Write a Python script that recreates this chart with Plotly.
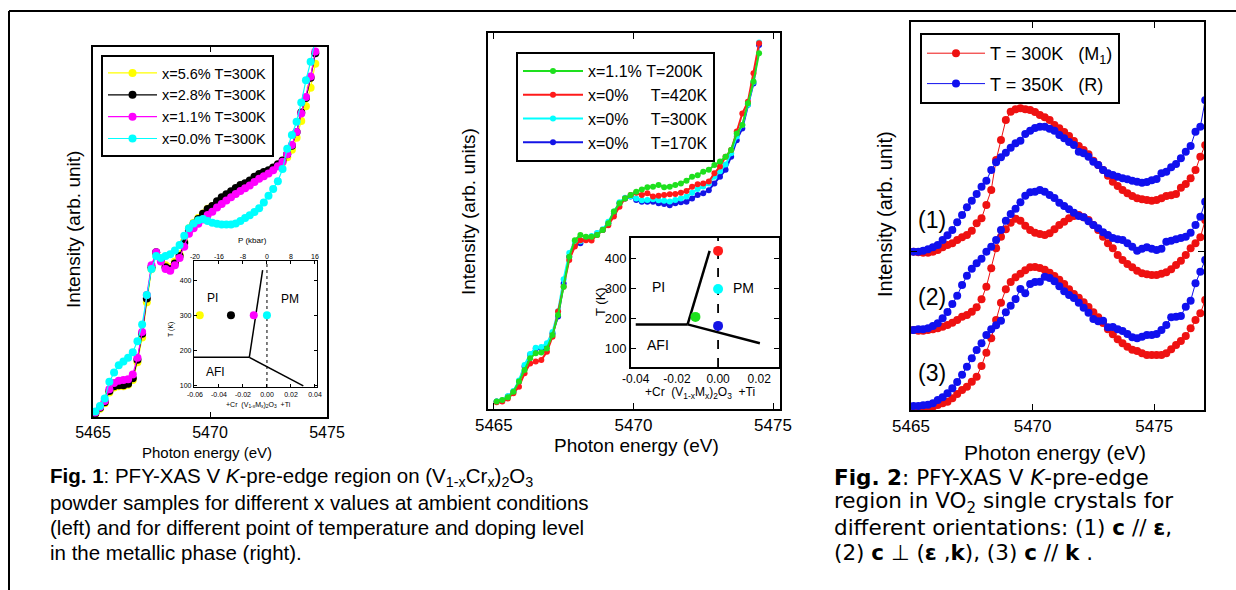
import plotly.graph_objects as go

# ---------------- data ----------------
# Fig.1 left panel: (V1-xCrx)2O3, T = 300 K
e_left = [5465.1, 5465.3, 5465.5, 5465.7, 5465.9, 5466.1, 5466.3, 5466.5, 5466.7, 5466.9,
          5467.1, 5467.3, 5467.5, 5467.7, 5467.9, 5468.1, 5468.3, 5468.5, 5468.7, 5468.9,
          5469.1, 5469.3, 5469.5, 5469.7, 5469.9, 5470.1, 5470.3, 5470.5, 5470.7, 5470.9,
          5471.1, 5471.3, 5471.5, 5471.7, 5471.9, 5472.1, 5472.3, 5472.5, 5472.7, 5472.9,
          5473.1, 5473.3, 5473.5, 5473.7, 5473.9, 5474.1, 5474.3, 5474.5]
i_x56 = [0.8, 2.2, 3.7, 6.6, 8.0, 8.3, 8.3, 8.7, 10.0, 14.8, 21.5, 31.0, 40.0, 44.3, 42.8, 41.0,
         40.5, 42.0, 44.0, 47.5, 51.0, 52.5, 53.8, 55.0, 56.3, 57.0, 58.0, 59.0, 59.8, 60.6,
         61.5, 62.2, 62.8, 63.5, 64.4, 65.2, 65.8, 66.3, 67.0, 67.8, 68.8, 70.2, 72.2, 75.5,
         80.0, 84.0, 89.0, 95.5]
i_x28 = [1.0, 2.5, 4.0, 7.0, 8.3, 8.6, 8.6, 9.0, 10.5, 15.5, 22.5, 32.0, 40.5, 44.5, 42.5, 40.5,
         40.0, 41.5, 43.5, 47.0, 50.5, 52.2, 53.5, 54.9, 56.2, 57.0, 58.3, 59.4, 60.2, 61.0,
         61.9, 62.7, 63.2, 63.9, 64.9, 65.7, 66.2, 66.7, 67.4, 68.3, 69.3, 71.0, 73.3, 77.0,
         82.3, 86.2, 91.7, 98.3]
i_x11 = [1.2, 2.7, 4.3, 7.5, 9.2, 9.8, 10.0, 10.2, 11.5, 16.0, 23.0, 33.0, 41.0, 44.5, 42.0, 40.0,
         39.5, 41.0, 43.0, 46.0, 49.5, 51.0, 52.2, 53.4, 54.6, 55.5, 56.6, 57.6, 58.5, 59.4,
         60.3, 61.1, 61.8, 62.6, 63.5, 64.4, 65.1, 65.8, 66.7, 67.8, 69.0, 71.0, 73.5, 77.0,
         82.0, 86.5, 92.0, 98.8]
i_x00 = [1.5, 3.0, 5.0, 9.5, 12.0, 14.0, 15.0, 16.0, 17.5, 20.5, 25.0, 33.0, 40.0, 43.5, 43.0, 43.5,
         44.0, 45.0, 46.5, 49.0, 51.0, 52.3, 53.2, 53.5, 53.0, 52.5, 52.2, 52.0, 52.0, 52.0,
         52.3, 53.0, 53.8, 54.5, 55.4, 56.4, 58.0, 59.8, 61.6, 63.7, 67.0, 72.5, 76.2, 79.8,
         85.0, 91.0, 96.0, 102.0]
left_names = ["x=5.6% T=300K", "x=2.8% T=300K", "x=1.1% T=300K", "x=0.0% T=300K"]

# inset of left panel (phase diagram)
pd1_comp = [-0.056, -0.03, -0.011, 0.0]
pd1_T = [300, 300, 300, 300]
pd1_pressure_ticks = ["-20", "-16", "-8", "0", "8", "16"]
pd1_comp_ticks = [-0.06, -0.04, -0.02, 0.0, 0.02, 0.04]
pd1_T_ticks = [100, 200, 300, 400]
b1_afi_pi_x = [-0.0608, -0.0147]
b1_afi_pi_T = [181, 181]
b1_pi_pm_x = [-0.0147, -0.0036]
b1_pi_pm_T = [181, 428]
b1_afi_pm_x = [-0.0147, 0.0303]
b1_afi_pm_T = [181, 100]

# Fig.1 right panel
e_mid = list(e_left)
i_g200 = [2.0, 2.4, 3.1, 4.6, 7.3, 10.4, 13.5, 14.8, 15.0, 16.1, 19.7, 25.0, 32.5, 40.5, 44.9, 46.3,
          45.8, 45.8, 46.3, 47.6, 49.4, 52.5, 54.7, 56.0, 56.9, 57.8, 58.4, 59.0, 59.1, 59.6,
          59.0, 59.1, 59.6, 60.0, 60.7, 61.8, 62.2, 63.1, 63.6, 64.9, 65.8, 67.1, 68.9, 73.3,
          75.5, 81.3, 87.1, 94.6]
i_r420 = [1.8, 2.0, 2.8, 4.2, 5.9, 9.5, 12.1, 12.6, 13.0, 15.2, 19.2, 25.9, 32.5, 39.6, 43.2, 44.9,
          44.9, 44.8, 46.3, 47.6, 48.9, 51.2, 53.8, 56.0, 56.9, 57.5, 56.9, 57.4, 56.5, 56.7,
          56.9, 57.1, 57.2, 57.5, 58.0, 59.1, 59.8, 60.0, 60.5, 62.7, 64.5, 67.1, 68.9, 73.8,
          78.6, 81.7, 89.3, 97.3]
i_c300 = [2.0, 2.3, 3.4, 4.8, 7.6, 11.7, 14.6, 16.3, 16.5, 17.5, 20.5, 26.0, 34.5, 41.5, 44.5, 44.6,
          45.6, 46.0, 46.8, 47.8, 49.8, 52.5, 55.0, 56.2, 56.6, 56.0, 55.5, 55.6, 55.8, 55.5,
          55.4, 55.2, 55.6, 56.0, 56.5, 57.5, 58.5, 59.2, 60.0, 61.8, 63.2, 65.0, 68.0, 72.5,
          75.5, 81.0, 87.0, 97.5]
i_b170 = [2.0, 2.2, 3.3, 4.6, 7.3, 11.3, 14.4, 16.1, 16.1, 17.0, 20.1, 24.6, 33.4, 40.5, 43.6, 44.1,
          45.4, 45.8, 46.7, 47.6, 49.4, 52.0, 54.7, 56.0, 56.5, 55.6, 55.1, 55.1, 55.1, 54.7,
          54.5, 54.2, 54.7, 55.0, 55.1, 56.0, 56.9, 57.4, 58.2, 60.0, 61.8, 63.6, 67.1, 71.5,
          74.6, 80.9, 86.6, 96.8]
mid_names = ["x=1.1%\u00a0T=200K", "x=0%\u00a0\u00a0\u00a0\u00a0\u00a0T=420K",
             "x=0%\u00a0\u00a0\u00a0\u00a0\u00a0T=300K", "x=0%\u00a0\u00a0\u00a0\u00a0\u00a0T=170K"]

# inset of right panel
pd2_comp = [-0.011, 0.0, 0.0, 0.0]
pd2_T = [205, 425, 298, 175]
pd2_comp_ticks = [-0.04, -0.02, 0.0, 0.02]
pd2_T_ticks = [100, 200, 300, 400]
b2_afi_pi_x = [-0.04, -0.0148]
b2_afi_pi_T = [180, 180]
b2_pi_pm_x = [-0.0148, -0.0041]
b2_pi_pm_T = [180, 425]
b2_afi_pm_x = [-0.0148, 0.0203]
b2_afi_pm_T = [180, 117]

# Fig.2: VO2 single crystals, three orientations (offset curves)
e_vo2 = [5465.1, 5465.3, 5465.5, 5465.7, 5465.9, 5466.1, 5466.3, 5466.5, 5466.7, 5466.9,
         5467.1, 5467.3, 5467.5, 5467.7, 5467.9, 5468.1, 5468.3, 5468.5, 5468.7, 5468.9,
         5469.1, 5469.3, 5469.5, 5469.7, 5469.9, 5470.1, 5470.3, 5470.5, 5470.7, 5470.9,
         5471.1, 5471.3, 5471.5, 5471.7, 5471.9, 5472.1, 5472.3, 5472.5, 5472.7, 5472.9,
         5473.1, 5473.3, 5473.5, 5473.7, 5473.9, 5474.1, 5474.3, 5474.5, 5474.7, 5474.9,
         5475.1, 5475.3, 5475.5, 5475.7, 5475.9, 5476.1, 5476.3, 5476.5, 5476.7, 5476.9, 5477.1]
m1_o1 = [47.5, 47.3, 47.2, 47.2, 47.5, 48.0, 48.8, 49.5, 50.0, 51.0, 51.8, 52.5, 53.8, 56.0, 57.5,
         61.5, 66.0, 75.0, 81.0, 87.0, 89.5, 90.2, 90.5, 90.2, 90.0, 89.4, 88.5, 87.8, 87.0, 85.5,
         84.5, 83.4, 82.2, 80.7, 79.2, 78.0, 76.7, 74.8, 73.5, 72.0, 70.3, 68.5, 67.2, 66.0, 65.0,
         64.2, 63.5, 63.2, 63.0, 62.8, 63.0, 63.5, 64.2, 64.4, 64.8, 66.7, 67.8, 69.5, 72.0, 76.0, 79.5]
r_o1 = [47.5, 47.5, 47.8, 48.2, 48.8, 49.5, 51.0, 52.4, 54.0, 56.3, 58.5, 60.8, 62.8, 64.8, 67.0,
        68.8, 72.0, 74.3, 75.8, 77.2, 78.7, 80.0, 80.8, 82.8, 83.8, 84.6, 85.0, 85.0, 84.4, 83.8,
        82.5, 81.5, 80.4, 79.5, 77.5, 77.0, 76.0, 74.5, 73.5, 72.0, 71.0, 70.5, 70.0, 69.5, 69.2,
        68.8, 68.5, 68.2, 68.4, 68.9, 69.3, 71.0, 71.5, 72.8, 73.8, 75.5, 77.5, 79.2, 83.5, 85.0, 93.0]
m1_o2 = [24.0, 23.8, 23.8, 24.0, 24.2, 24.5, 25.0, 25.5, 26.2, 27.0, 28.0, 28.5, 29.5, 30.8, 33.2,
         37.0, 42.5, 48.5, 52.0, 54.2, 56.2, 57.4, 56.8, 55.3, 54.0, 53.2, 52.8, 52.5, 53.0, 54.2,
         55.5, 56.5, 57.5, 58.2, 58.5, 57.8, 57.0, 55.5, 54.0, 52.0, 50.0, 48.5, 46.5, 45.0, 43.8,
         42.8, 41.8, 41.0, 40.7, 40.5, 40.5, 40.9, 41.3, 42.2, 43.5, 44.8, 46.5, 48.5, 50.0, 51.8, 57.0]
r_o2 = [24.0, 24.2, 24.2, 24.5, 25.2, 26.0, 27.5, 29.4, 31.8, 34.3, 37.5, 40.3, 42.4, 44.0, 45.4,
        47.5, 49.0, 51.0, 54.0, 56.8, 58.8, 60.4, 62.3, 64.3, 65.3, 65.5, 66.0, 65.5, 64.5, 63.6,
        62.2, 61.2, 60.2, 59.2, 58.2, 57.8, 56.6, 55.5, 54.5, 53.3, 52.5, 51.6, 51.2, 51.0, 50.0,
        49.0, 47.8, 48.4, 48.8, 48.4, 48.0, 48.4, 50.5, 50.8, 51.2, 51.6, 52.0, 53.2, 55.5, 58.0, 62.5]
m1_o3 = [0.5, 0.5, 0.5, 0.8, 1.0, 1.5, 2.0, 2.5, 3.5, 4.8, 6.0, 7.0, 8.5, 10.0, 13.2, 17.2, 21.5,
         27.0, 32.2, 36.2, 38.4, 39.8, 40.9, 41.9, 42.8, 42.9, 42.6, 42.1, 41.2, 40.2, 39.1, 37.8,
         36.2, 34.8, 33.7, 32.3, 30.9, 29.3, 27.8, 26.1, 24.2, 22.7, 21.2, 20.0, 19.0, 18.1, 17.7,
         17.0, 16.5, 16.5, 16.5, 16.5, 17.0, 18.2, 19.5, 20.7, 22.2, 24.5, 27.0, 29.0, 33.0]
r_o3 = [1.2, 1.2, 1.4, 1.6, 2.0, 3.0, 3.8, 5.0, 6.5, 8.4, 10.6, 13.0, 15.5, 18.0, 20.0, 22.5, 24.2,
        25.4, 26.8, 29.3, 31.3, 33.3, 36.3, 35.0, 37.8, 38.4, 38.5, 40.0, 39.6, 38.6, 37.1, 35.6,
        34.5, 33.6, 32.2, 30.7, 29.2, 27.3, 26.6, 26.8, 24.8, 24.9, 24.2, 23.7, 22.8, 21.8, 21.5,
        22.0, 22.5, 22.5, 22.8, 24.0, 25.5, 27.8, 28.0, 28.2, 31.0, 32.8, 38.0, 41.5, 45.0]
vo2_names = ["T = 300K\u00a0\u00a0\u00a0(M<sub>1</sub>)", "T = 350K\u00a0\u00a0\u00a0(R)"]
orient_labels = ["(1)", "(2)", "(3)"]
orient_label_y = [57, 34, 11]
energy_ticks = [5465, 5470, 5475]

# ---------------- styling ----------------
W, H = 1236, 590
FONT = "Liberation Sans, Arial, sans-serif"
WIDE_FONT = "DejaVu Sans, Verdana, sans-serif"


def px(v):
    return v / W


def py(v):
    return 1 - v / H


fig = go.Figure()

# panel 1 curves
for name, vals, col in zip(left_names, [i_x56, i_x28, i_x11, i_x00],
                           ["#FFFF00", "#000000", "#FF00FF", "#00FFFF"]):
    fig.add_trace(go.Scatter(x=e_left, y=vals, mode="lines+markers", name=name,
                             line=dict(color=col, width=1.2), marker=dict(color=col, size=8),
                             xaxis="x", yaxis="y", legend="legend"))

# inset 1
for bx, bt in [(b1_afi_pi_x, b1_afi_pi_T), (b1_pi_pm_x, b1_pi_pm_T), (b1_afi_pm_x, b1_afi_pm_T)]:
    fig.add_trace(go.Scatter(x=bx, y=bt, mode="lines", line=dict(color="black", width=1.5),
                             showlegend=False, xaxis="x2", yaxis="y2", hoverinfo="skip"))
fig.add_trace(go.Scatter(x=[0, 0], y=[97, 454], mode="lines",
                         line=dict(color="black", width=1, dash="dot"),
                         showlegend=False, xaxis="x2", yaxis="y2", hoverinfo="skip"))
fig.add_trace(go.Scatter(x=pd1_comp, y=pd1_T, mode="markers",
                         marker=dict(color=["#FFFF00", "#000000", "#FF00FF", "#00FFFF"], size=8),
                         showlegend=False, xaxis="x2", yaxis="y2"))
# invisible trace so that the pressure (top) axis of the inset gets drawn
fig.add_trace(go.Scatter(x=pd1_comp, y=pd1_T, mode="markers", marker=dict(opacity=0),
                         showlegend=False, xaxis="x3", yaxis="y2", hoverinfo="skip"))

# panel 2 curves (drawn blue, cyan, red, green; legend order green, red, cyan, blue)
mid_cols = ["#1EE01E", "#FF1A1A", "#00FFFF", "#1414E6"]
mid_vals = [i_g200, i_r420, i_c300, i_b170]
for k in [3, 2, 1, 0]:
    fig.add_trace(go.Scatter(x=e_mid, y=mid_vals[k], mode="lines+markers", name=mid_names[k],
                             line=dict(color=mid_cols[k], width=2),
                             marker=dict(color=mid_cols[k], size=6),
                             xaxis="x4", yaxis="y4", legend="legend2", legendrank=k + 1))

# inset 2
for bx, bt in [(b2_afi_pi_x, b2_afi_pi_T), (b2_pi_pm_x, b2_pi_pm_T), (b2_afi_pm_x, b2_afi_pm_T)]:
    fig.add_trace(go.Scatter(x=bx, y=bt, mode="lines", line=dict(color="black", width=2.5),
                             showlegend=False, xaxis="x5", yaxis="y5", hoverinfo="skip"))
fig.add_trace(go.Scatter(x=[0, 0], y=[38, 468], mode="lines",
                         line=dict(color="black", width=1.8, dash="dash"),
                         showlegend=False, xaxis="x5", yaxis="y5", hoverinfo="skip"))
fig.add_trace(go.Scatter(x=pd2_comp, y=pd2_T, mode="markers",
                         marker=dict(color=["#1EE01E", "#FF1A1A", "#00FFFF", "#1414E6"], size=10),
                         showlegend=False, xaxis="x5", yaxis="y5"))

# panel 3 curves
red3, blue3 = "#EE1111", "#1010EE"
for j, (rv, bv) in enumerate([(m1_o1, r_o1), (m1_o2, r_o2), (m1_o3, r_o3)]):
    fig.add_trace(go.Scatter(x=e_vo2, y=rv, mode="lines+markers", name=vo2_names[0],
                             line=dict(color=red3, width=1), marker=dict(color=red3, size=8),
                             xaxis="x6", yaxis="y6", legend="legend3", legendgroup="m1",
                             showlegend=(j == 0)))
    fig.add_trace(go.Scatter(x=e_vo2, y=bv, mode="lines+markers", name=vo2_names[1],
                             line=dict(color=blue3, width=1), marker=dict(color=blue3, size=8),
                             xaxis="x6", yaxis="y6", legend="legend3", legendgroup="r",
                             showlegend=(j == 0)))

axis_common = dict(showgrid=False, zeroline=False, showline=True, linecolor="black",
                   ticks="inside", tickcolor="black", automargin=False)

legend_common = dict(bgcolor="white", bordercolor="black", borderwidth=2,
                     xanchor="left", yanchor="top", itemclick=False)

fig.update_layout(
    width=W, height=H, autosize=False, margin=dict(l=0, r=0, t=0, b=0, pad=0),
    paper_bgcolor="white", plot_bgcolor="rgba(0,0,0,0)",
    font=dict(family=FONT, color="black"),
    xaxis=dict(axis_common, domain=[px(93), px(327)], range=[5465, 5475], anchor="y",
               tickvals=energy_ticks, mirror="ticks", linewidth=1.5, ticklen=5,
               tickfont=dict(size=16)),
    yaxis=dict(axis_common, domain=[py(417), py(47)], range=[0, 100], anchor="x",
               showticklabels=False, ticks="", mirror=True, linewidth=1.5),
    xaxis2=dict(axis_common, domain=[px(194), px(317)], range=[-0.0608, 0.0417], anchor="y2",
                tickvals=pd1_comp_ticks, ticktext=["-0.06", "-0.04", "-0.02", "0.00", "0.02", "0.04"],
                mirror=True, linewidth=1.2, ticklen=3, tickfont=dict(size=7)),
    xaxis3=dict(axis_common, overlaying="x2", side="top", anchor="y2", range=[-0.0608, 0.0417],
                tickvals=pd1_comp_ticks, ticktext=pd1_pressure_ticks, showline=False,
                ticklen=3, tickfont=dict(size=7)),
    yaxis2=dict(axis_common, domain=[py(387), py(261)], range=[97, 454], anchor="x2",
                tickvals=pd1_T_ticks, mirror="ticks", linewidth=1.2, ticklen=3,
                tickfont=dict(size=7)),
    xaxis4=dict(axis_common, domain=[px(488), px(780)], range=[5464.79, 5475.25], anchor="y4",
                tickvals=energy_ticks, mirror="ticks", linewidth=2, ticklen=6,
                tickfont=dict(size=17)),
    yaxis4=dict(axis_common, domain=[py(409), py(33)], range=[0, 100], anchor="x4",
                showticklabels=False, ticks="", mirror=True, linewidth=2),
    xaxis5=dict(axis_common, domain=[px(631), px(779)], range=[-0.0423, 0.0296], anchor="y5",
                tickvals=pd2_comp_ticks, ticktext=["-0.04", "-0.02", "0.00", "0.02"],
                mirror=True, linewidth=2, ticks="", tickfont=dict(size=12)),
    yaxis5=dict(axis_common, domain=[py(367), py(238)], range=[38, 468], anchor="x5",
                tickvals=pd2_T_ticks, mirror="ticks", linewidth=2, ticklen=5,
                tickfont=dict(size=13)),
    xaxis6=dict(axis_common, domain=[px(911), px(1204)], range=[5465, 5477.05], anchor="y6",
                tickvals=energy_ticks, mirror="ticks", linewidth=2, ticklen=6,
                tickfont=dict(size=17)),
    yaxis6=dict(axis_common, domain=[py(410), py(21.7)], range=[0, 116.5], anchor="x6",
                tickvals=[47.5], showticklabels=False, mirror="ticks", linewidth=2, ticklen=6),
    legend=dict(legend_common, x=px(101), y=py(55), font=dict(size=14.5, family=FONT),
                itemwidth=49),
    legend2=dict(legend_common, x=px(516), y=py(52), font=dict(size=16, family=FONT),
                 itemwidth=60),
    legend3=dict(legend_common, x=px(920), y=py(33), font=dict(size=18, family=FONT),
                 traceorder="grouped", tracegroupgap=4, itemwidth=58),
)

ann = []


def txt(x, y, text, size, angle=0, xanchor="center", yanchor="middle", xref="paper", yref="paper",
        family=FONT):
    ann.append(dict(x=x, y=y, xref=xref, yref=yref, text=text, showarrow=False,
                    textangle=angle, xanchor=xanchor, yanchor=yanchor,
                    font=dict(size=size, family=family, color="black")))


# axis titles
txt(px(207), py(452), "Photon energy (eV)", 15)
txt(px(73), py(230), "Intensity (arb. unit)", 19, angle=-90)
txt(px(636), py(445), "Photon energy (eV)", 19)
txt(px(468), py(212), "Intensity (arb. units)", 19, angle=-90)
txt(px(1055), py(452), "Photon energy (eV)", 21)
txt(px(885), py(214), "Intensity (arb. unit)", 20, angle=-90)

# inset 1 texts
txt(px(252), py(240), "P (kbar)", 8)
txt(px(258), py(405), "+Cr\u00a0\u00a0(V<sub>1-x</sub>M<sub>x</sub>)<sub>2</sub>O<sub>3</sub>\u00a0\u00a0+Ti", 7)
txt(px(171), py(330), "T (K)", 7, angle=-90)
txt(-0.045, 349, "PI", 12, xref="x2", yref="y2")
txt(0.019, 346, "PM", 12, xref="x2", yref="y2")
txt(-0.043, 140, "AFI", 12, xref="x2", yref="y2")

# inset 2 texts
txt(px(700), py(393), "+Cr\u00a0\u00a0(V<sub>1-x</sub>M<sub>x</sub>)<sub>2</sub>O<sub>3</sub>\u00a0\u00a0+Ti", 12)
txt(px(600), py(302), "T (K)", 13, angle=-90)
txt(-0.029, 305, "PI", 14, xref="x5", yref="y5")
txt(0.0122, 300, "PM", 14, xref="x5", yref="y5")
txt(-0.029, 111, "AFI", 14, xref="x5", yref="y5")

# orientation labels in Fig.2
for lab, yv in zip(orient_labels, orient_label_y):
    txt(5465.85, yv, lab, 23, xref="x6", yref="y6")

# captions
cap1 = ["<b>Fig. 1</b>: PFY-XAS V <i>K</i>-pre-edge region on (V<sub>1-x</sub>Cr<sub>x</sub>)<sub>2</sub>O<sub>3</sub>",
        "powder samples for different x values at ambient conditions",
        "(left) and for different point of temperature and doping level",
        "in the metallic phase (right)."]
cap2 = ["<b>Fig. 2</b>: PFY-XAS V <i>K</i>-pre-edge",
        "region in VO<sub>2</sub> single crystals for",
        "different orientations: (1) <b>c</b> // <b>ε</b>,",
        "(2) <b>c</b> ⊥ (<b>ε</b> ,<b>k</b>), (3) <b>c</b> // <b>k</b> ."]
for k, line in enumerate(cap1):
    txt(px(48), py(477 + 25 * k), line, 20.5, xanchor="left")
for k, line in enumerate(cap2):
    txt(px(832), py(477 + 25 * k), line, 21.5, xanchor="left", family=WIDE_FONT)

fig.update_layout(annotations=ann)

# outer frame (top and left edges of the page box)
fig.update_layout(shapes=[
    dict(type="line", xref="paper", yref="paper", x0=px(9), x1=1, y0=py(11), y1=py(11),
         line=dict(color="black", width=2)),
    dict(type="line", xref="paper", yref="paper", x0=px(9), x1=px(9), y0=py(11), y1=0,
         line=dict(color="black", width=2)),
])

fig.write_html("out.html", config={"responsive": False, "displayModeBar": False},
               post_script="document.body.style.margin='0';document.body.style.overflow='hidden';")
